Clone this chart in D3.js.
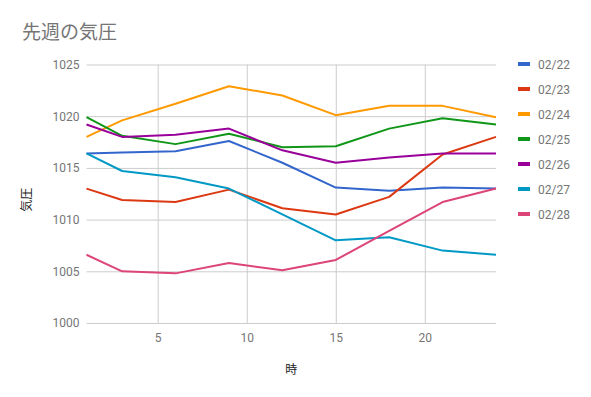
<!DOCTYPE html>
<html>
<head>
<meta charset="utf-8">
<script src="https://cdn.jsdelivr.net/npm/d3@7"></script>
<style>
  body { margin: 0; background: #fff; }
  text { font-family: Roboto, "Noto Sans CJK JP", sans-serif; }
</style>
</head>
<body>
<svg id="chart"></svg>
<script>
const hours = [1, 3, 6, 9, 12, 15, 18, 21, 24];
const days = ["02/22", "02/23", "02/24", "02/25", "02/26", "02/27", "02/28"];
const colors = ["#3366cc", "#dc3912", "#ff9900", "#109618", "#990099", "#0099c6", "#dd4477"];

const p0222 = [1016.4, 1016.5, 1016.6, 1017.6, 1015.5, 1013.1, 1012.8, 1013.1, 1013.0];
const p0223 = [1013.0, 1011.9, 1011.7, 1012.9, 1011.1, 1010.5, 1012.2, 1016.3, 1018.0];
const p0224 = [1018.0, 1019.6, 1021.2, 1022.9, 1022.0, 1020.1, 1021.0, 1021.0, 1019.9];
const p0225 = [1019.9, 1018.1, 1017.3, 1018.3, 1017.0, 1017.1, 1018.8, 1019.8, 1019.2];
const p0226 = [1019.2, 1018.0, 1018.2, 1018.8, 1016.7, 1015.5, 1016.0, 1016.4, 1016.4];
const p0227 = [1016.4, 1014.7, 1014.1, 1013.0, 1010.5, 1008.0, 1008.3, 1007.0, 1006.6];
const p0228 = [1006.6, 1005.0, 1004.8, 1005.8, 1005.1, 1006.1, 1008.9, 1011.7, 1013.0];

const yTicks = [1000, 1005, 1010, 1015, 1020, 1025];
const xTicks = [5, 10, 15, 20];

const seriesValues = [p0222, p0223, p0224, p0225, p0226, p0227, p0228];
const series = days.map((d, i) => ({
  name: d,
  color: colors[i],
  values: hours.map((h, j) => ({ hour: h, value: seriesValues[i][j] }))
}));

const W = 591, H = 397;
const margin = { top: 64.5, right: 95, bottom: 74, left: 86.5 };
const width = W - margin.left - margin.right;
const height = H - margin.top - margin.bottom;

const svg = d3.select("#chart").attr("width", W).attr("height", H);

svg.append("text")
  .attr("x", 22).attr("y", 39)
  .attr("fill", "#757575")
  .style("font-family", "'Noto Sans CJK JP', sans-serif")
  .style("font-size", "19px")
  .text("先週の気圧");

const g = svg.append("g").attr("transform", `translate(${margin.left},${margin.top})`);

const x = d3.scaleLinear().domain([1, 24]).range([0, width]);
const y = d3.scaleLinear().domain([1000, 1025]).range([height, 0]);

// grid
g.append("g")
  .call(d3.axisLeft(y).tickValues(yTicks).tickSize(-width).tickFormat(d => d))
  .call(a => a.select(".domain").remove())
  .call(a => a.selectAll("line").attr("stroke", "#cccccc"))
  .call(a => a.selectAll("text").attr("x", -7).attr("fill", "#757575").style("font-size", "12px"));

g.append("g")
  .attr("transform", `translate(0,${height})`)
  .call(d3.axisBottom(x).tickValues(xTicks).tickSize(-height))
  .call(a => a.select(".domain").remove())
  .call(a => a.selectAll("line").attr("stroke", "#cccccc"))
  .call(a => a.selectAll("text").attr("y", 10).attr("fill", "#757575").style("font-size", "12px"));

const line = d3.line()
  .x(d => x(d.hour))
  .y(d => y(d.value));

g.selectAll(".series")
  .data(series)
  .enter()
  .append("path")
  .attr("class", "series")
  .attr("fill", "none")
  .attr("stroke", d => d.color)
  .attr("stroke-width", 2)
  .attr("stroke-linejoin", "round")
  .attr("d", d => line(d.values));

// axis titles
svg.append("text")
  .attr("transform", `translate(31,${margin.top + height / 2 + 6}) rotate(-90)`)
  .attr("text-anchor", "middle")
  .attr("fill", "#222")
  .style("font-family", "'Noto Sans CJK JP', sans-serif")
  .style("font-size", "12px")
  .text("気圧");

svg.append("text")
  .attr("x", margin.left + width / 2)
  .attr("y", 374)
  .attr("text-anchor", "middle")
  .attr("fill", "#222")
  .style("font-family", "'Noto Sans CJK JP', sans-serif")
  .style("font-size", "12px")
  .text("時");

// legend
const legend = svg.append("g").attr("transform", "translate(518,64)");
const item = legend.selectAll("g")
  .data(series)
  .enter()
  .append("g")
  .attr("transform", (d, i) => `translate(0,${i * 25})`);

item.append("rect")
  .attr("x", 0).attr("y", -2)
  .attr("width", 12).attr("height", 4)
  .attr("fill", d => d.color);

item.append("text")
  .attr("x", 20).attr("y", 4.5)
  .attr("fill", "#757575")
  .style("font-size", "12px")
  .text(d => d.name);
</script>
</body>
</html>
